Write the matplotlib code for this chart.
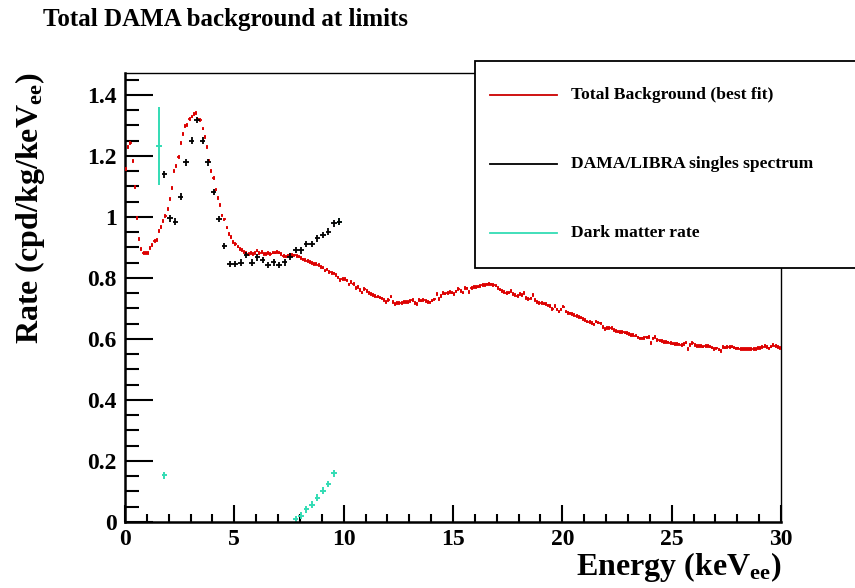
import numpy as np
import matplotlib
matplotlib.use("Agg")
import matplotlib.pyplot as plt
from matplotlib.lines import Line2D
from matplotlib.patches import Rectangle

plt.rcParams['font.family'] = ['Liberation Serif', 'DejaVu Serif']
plt.rcParams['font.weight'] = 'bold'
plt.rcParams['mathtext.fontset'] = 'custom'
plt.rcParams['mathtext.rm'] = 'Liberation Serif:bold'
plt.rcParams['mathtext.bf'] = 'Liberation Serif:bold'
plt.rcParams['mathtext.it'] = 'Liberation Serif:bold'

# ---------------- data ----------------
title = "Total DAMA background at limits"
bg_label = "Total Background (best fit)"
dama_label = "DAMA/LIBRA singles spectrum"
dm_label = "Dark matter rate"

bg_bin_width = 0.1  # keV
bg_rate = [
    1.157, 1.230, 1.243, 1.184, 1.098, 0.997, 0.928, 0.895, 0.882, 0.882,
    0.882, 0.898, 0.908, 0.921, 0.925, 0.954, 0.967, 0.987, 1.003, 1.026,
    1.059, 1.095, 1.151, 1.167, 1.197, 1.243, 1.272, 1.298, 1.302, 1.322,
    1.329, 1.338, 1.340, 1.320, 1.318, 1.290, 1.262, 1.230, 1.185, 1.150,
    1.128, 1.090, 1.062, 1.040, 1.005, 0.992, 0.965, 0.945, 0.935, 0.918,
    0.911, 0.903, 0.895, 0.892, 0.886, 0.881, 0.878, 0.881, 0.879, 0.881,
    0.890, 0.881, 0.886, 0.878, 0.878, 0.881, 0.879, 0.883, 0.883, 0.886,
    0.883, 0.879, 0.872, 0.870, 0.874, 0.877, 0.876, 0.874, 0.871, 0.870,
    0.866, 0.861, 0.858, 0.855, 0.852, 0.850, 0.846, 0.845, 0.842, 0.837,
    0.834, 0.824, 0.828, 0.820, 0.817, 0.815, 0.810, 0.802, 0.793, 0.796,
    0.796, 0.792, 0.779, 0.786, 0.780, 0.768, 0.770, 0.760, 0.752, 0.763,
    0.758, 0.750, 0.747, 0.744, 0.742, 0.739, 0.736, 0.733, 0.728, 0.722,
    0.727, 0.739, 0.722, 0.715, 0.719, 0.717, 0.719, 0.721, 0.722, 0.722,
    0.724, 0.728, 0.719, 0.715, 0.728, 0.726, 0.728, 0.725, 0.722, 0.720,
    0.726, 0.730, 0.748, 0.731, 0.740, 0.750, 0.749, 0.750, 0.753, 0.752,
    0.748, 0.756, 0.763, 0.758, 0.752, 0.768, 0.766, 0.755, 0.768, 0.771,
    0.771, 0.772, 0.774, 0.776, 0.777, 0.779, 0.780, 0.779, 0.777, 0.775,
    0.768, 0.762, 0.758, 0.755, 0.750, 0.752, 0.758, 0.748, 0.744, 0.741,
    0.748, 0.745, 0.750, 0.735, 0.731, 0.733, 0.744, 0.727, 0.722, 0.718,
    0.717, 0.716, 0.714, 0.710, 0.708, 0.698, 0.709, 0.697, 0.690, 0.697,
    0.706, 0.690, 0.686, 0.684, 0.682, 0.679, 0.676, 0.673, 0.670, 0.666,
    0.662, 0.657, 0.655, 0.653, 0.648, 0.657, 0.654, 0.651, 0.640, 0.633,
    0.635, 0.636, 0.637, 0.630, 0.626, 0.624, 0.623, 0.622, 0.621, 0.619,
    0.616, 0.613, 0.612, 0.611, 0.605, 0.602, 0.602, 0.604, 0.605, 0.607,
    0.586, 0.602, 0.607, 0.597, 0.595, 0.593, 0.591, 0.590, 0.589, 0.586,
    0.585, 0.584, 0.583, 0.582, 0.580, 0.584, 0.588, 0.567, 0.580, 0.586,
    0.580, 0.577, 0.577, 0.576, 0.575, 0.578, 0.577, 0.575, 0.572, 0.567,
    0.569, 0.565, 0.561, 0.573, 0.572, 0.573, 0.573, 0.575, 0.572, 0.569,
    0.569, 0.568, 0.567, 0.568, 0.567, 0.567, 0.568, 0.567, 0.568, 0.570,
    0.571, 0.574, 0.577, 0.573, 0.569, 0.575, 0.580, 0.576, 0.573, 0.570,
]

dama_energy = [1.80, 2.05, 2.30, 2.55, 2.80, 3.05, 3.30, 3.55, 3.80, 4.05,
               4.30, 4.55, 4.80, 5.05, 5.30, 5.55, 5.80, 6.05, 6.30, 6.55,
               6.80, 7.05, 7.30, 7.55, 7.80, 8.05, 8.30, 8.55, 8.80, 9.05,
               9.30, 9.55, 9.80]
dama_rate = [1.140, 0.995, 0.985, 1.066, 1.179, 1.250, 1.318, 1.250, 1.179, 1.082,
             0.993, 0.905, 0.846, 0.846, 0.850, 0.875, 0.850, 0.868, 0.859, 0.843,
             0.851, 0.843, 0.851, 0.870, 0.892, 0.891, 0.911, 0.911, 0.930, 0.941,
             0.952, 0.979, 0.985]

dm_energy = [1.55, 1.80, 7.80, 8.05, 8.30, 8.55, 8.80, 9.05, 9.30, 9.55, 9.80]
dm_rate = [1.233, 0.153, 0.010, 0.021, 0.042, 0.057, 0.080, 0.103, 0.125, 0.160, 0.985]
dm_err = [0.127, 0.011, 0.011, 0.011, 0.011, 0.011, 0.011, 0.011, 0.011, 0.011, 0.011]

x_ticks = [0, 5, 10, 15, 20, 25, 30]
x_ticklabels = ["0", "5", "10", "15", "20", "25", "30"]
y_ticks = [0, 0.2, 0.4, 0.6, 0.8, 1.0, 1.2, 1.4]
y_ticklabels = ["0", "0.2", "0.4", "0.6", "0.8", "1", "1.2", "1.4"]

# ---------------- figure ----------------
W, H = 855, 588
fig = plt.figure(figsize=(W / 100, H / 100), dpi=100)
ax = fig.add_axes([125 / W, 1 - 522 / H, (781 - 125) / W, (522 - 73) / H])

red = '#dd0000'
teal = '#33dcb4'

bg_x = (np.arange(len(bg_rate)) + 0.5) * bg_bin_width
ax.errorbar(bg_x, bg_rate, xerr=bg_bin_width / 2, yerr=0.006, fmt='none',
            ecolor=red, elinewidth=1.3, capsize=0, zorder=3)
ax.errorbar(dm_energy, dm_rate, xerr=0.125, yerr=dm_err, fmt='none',
            ecolor=teal, elinewidth=1.4, capsize=0, zorder=2)
ax.errorbar(dama_energy, dama_rate, xerr=0.125, yerr=0.011, fmt='none',
            ecolor='black', elinewidth=1.3, capsize=0, zorder=4)

ax.set_xlim(0, 30)
ax.set_ylim(0, 1.472)
ax.set_xticks(x_ticks)
ax.set_xticklabels(x_ticklabels)
ax.set_yticks(y_ticks)
ax.set_yticklabels(y_ticklabels)
ax.set_xticks(np.arange(0, 31, 1), minor=True)
ax.set_yticks(np.arange(0, 1.47, 0.05), minor=True)
ax.tick_params(axis='both', which='both', direction='in', top=False, right=False,
               width=1.5, labelsize=17)
ax.tick_params(axis='y', which='major', length=20, pad=6)
ax.tick_params(axis='y', which='minor', length=10)
ax.tick_params(axis='x', which='major', length=12, pad=5)
ax.tick_params(axis='x', which='minor', length=6)
for lab in ax.get_xticklabels() + ax.get_yticklabels():
    lab.set_fontweight('bold')
ax.spines['left'].set_linewidth(1.8)
ax.spines['bottom'].set_linewidth(1.8)
ax.spines['top'].set_linewidth(1.0)
ax.spines['right'].set_linewidth(1.0)

# axis titles
fig.text(781 / W, 1 - 575 / H, r"Energy (keV$_{\mathbf{ee}}$)", ha='right', va='baseline',
         fontsize=23, fontweight='bold')
fig.text(30 / W, 1 - 73 / H, r"Rate (cpd/kg/keV$_{\mathbf{ee}}$)", ha='center', va='top',
         rotation=90, fontsize=23, fontweight='bold')
fig.text(43 / W, 1 - 26 / H, title, ha='left', va='baseline', fontsize=18, fontweight='bold')

# legend box (drawn in figure coords, on top of axes)
box = Rectangle((475 / W, 1 - 268 / H), (860 - 475) / W, (268 - 61) / H,
                transform=fig.transFigure, facecolor='white', edgecolor='black',
                linewidth=1.3, zorder=10, clip_on=False)
fig.add_artist(box)
entries = [(bg_label, '#cc0000', 95), (dama_label, 'black', 164), (dm_label, teal, 233)]
for text, col, ypix in entries:
    fig.add_artist(Line2D([490 / W, 557 / W], [1 - ypix / H, 1 - ypix / H],
                          transform=fig.transFigure, color=col, lw=1.3, zorder=11))
    fig.text(571 / W, 1 - ypix / H, text, ha='left', va='center', fontsize=12.6,
             fontweight='bold', zorder=11)

fig.savefig("out.png", dpi=100)
